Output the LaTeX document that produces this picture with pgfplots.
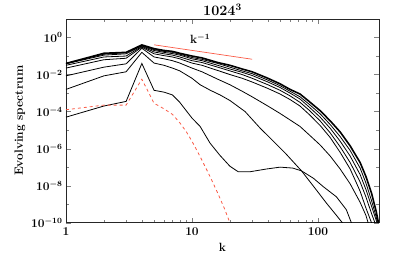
\documentclass[border=0pt]{standalone}
\usepackage{pgfplots}
\pgfplotsset{compat=1.18}
\definecolor{redline}{RGB}{250,90,70}
\newcommand{\tf}{\fontsize{12}{13}\selectfont\bfseries\boldmath}
\newcommand{\ttl}{\fontsize{14}{16}\selectfont\bfseries\boldmath}
\begin{document}
\begin{tikzpicture}
\path[use as bounding box] (-66bp,-39.3bp) rectangle (333bp,222.7bp);
\begin{axis}[
  at={(0bp,0bp)}, anchor=south west,
  scale only axis, width=313bp, height=203.7bp,
  xmode=log, ymode=log,
  xmin=1, xmax=305, ymin=1e-10, ymax=1e1,
  xtick={1,10,100}, xticklabels={1,10,100},
  ytick={1e0,1e-2,1e-4,1e-6,1e-8,1e-10},
  yticklabels={$10^{0}$,$10^{-2}$,$10^{-4}$,$10^{-6}$,$10^{-8}$,$10^{-10}$},
  minor ytick={1e-1,1e-3,1e-5,1e-7,1e-9},
  tick align=inside, major tick length=5bp, minor tick length=3bp,
  tick label style={font=\tf},
  xticklabel style={yshift=-1bp},
  axis line style={line width=0.8pt, black!85},
  title={$1024^3$},
  title style={font=\ttl, yshift=-6bp},
  xlabel={k},
  ylabel={Evolving spectrum},
  label style={font=\tf},
  xlabel style={yshift=-1bp},
  ylabel style={yshift=-1bp},
  no marks,
]
\addplot[black, line width=0.8pt] coordinates {(1,5.01e-5)(2,2.00e-4)(3,3.55e-4)(4,3.98e-2)(5,1.41e-3)(6,1.12e-3)(7,7.94e-4)(8,3.16e-4)(9,1.12e-4)(10,4.47e-5)(11.6,1.58e-5)(13.9,2.00e-6)(16.6,4.47e-7)(20,1.12e-7)(23.3,5.62e-8)(28.8,5.62e-8)(39,7.94e-8)(50,1.00e-7)(63,8.91e-8)(74,6.31e-8)(92,2.51e-8)(110,8.91e-9)(140,2.51e-9)(168,5.01e-10)(184,1.00e-10)(190,5.01e-11)};
\addplot[black, line width=0.8pt] coordinates {(1,1.58e-3)(2,8.51e-3)(3,1.41e-2)(4,1.58e-1)(5,4.17e-2)(6,3.16e-2)(7,2.24e-2)(8,1.58e-2)(10,6.31e-3)(11.6,2.82e-3)(14,1.41e-3)(16.7,7.94e-4)(20,3.98e-4)(26.4,1.00e-4)(34.6,1.32e-5)(41.6,3.80e-6)(56,5.01e-7)(74,6.31e-8)(95,7.08e-9)(117,1.12e-9)(140,2.51e-10)(156,1.00e-10)(165,3.98e-11)};
\addplot[black, line width=0.8pt] coordinates {(1,8.51e-3)(2,2.51e-2)(3,3.80e-2)(4,2.63e-1)(5,8.91e-2)(6,7.08e-2)(7,5.62e-2)(8,4.17e-2)(10,2.24e-2)(12,1.41e-2)(16,5.62e-3)(20,2.82e-3)(25,1.26e-3)(30,6.31e-4)(40,2.00e-4)(50,7.94e-5)(60,3.55e-5)(72,1.58e-5)(85,5.62e-6)(104,1.58e-6)(125,3.98e-7)(150,7.94e-8)(180,1.26e-8)(216,1.26e-9)(240,2.51e-10)(250,1.00e-10)(260,3.98e-11)};
\addplot[black, line width=0.8pt] coordinates {(1,2.24e-2)(2,6.31e-2)(3,7.59e-2)(4,3.02e-1)(5,1.32e-1)(6,1.05e-1)(7,8.91e-2)(8,7.08e-2)(10,4.17e-2)(12,3.16e-2)(16,1.66e-2)(20,1.00e-2)(25,6.31e-3)(30,3.98e-3)(40,1.78e-3)(50,8.91e-4)(60,4.47e-4)(72,2.00e-4)(85,7.08e-5)(104,1.78e-5)(125,3.98e-6)(150,6.31e-7)(180,7.94e-8)(216,5.01e-9)(240,6.31e-10)(266,1.00e-10)(275,3.98e-11)};
\addplot[black, line width=0.8pt] coordinates {(1,3.16e-2)(2,8.91e-2)(3,1.00e-1)(4,3.31e-1)(5,1.66e-1)(6,1.32e-1)(7,1.12e-1)(8,8.91e-2)(10,5.62e-2)(12,4.47e-2)(16,2.51e-2)(20,1.58e-2)(25,1.00e-2)(30,6.31e-3)(40,2.82e-3)(50,1.41e-3)(60,7.08e-4)(72,3.16e-4)(85,1.20e-4)(104,3.16e-5)(125,7.08e-6)(150,1.26e-6)(180,1.78e-7)(216,1.58e-8)(240,2.51e-9)(266,3.16e-10)(283,1.00e-10)(290,3.98e-11)};
\addplot[black, line width=0.8pt] coordinates {(1,3.80e-2)(2,1.12e-1)(3,1.32e-1)(4,3.55e-1)(5,2.00e-1)(6,1.58e-1)(7,1.35e-1)(8,1.12e-1)(10,7.08e-2)(12,5.62e-2)(16,3.16e-2)(20,2.00e-2)(25,1.32e-2)(30,8.91e-3)(40,3.98e-3)(50,2.00e-3)(60,1.00e-3)(72,4.79e-4)(85,1.78e-4)(104,5.01e-5)(125,1.26e-5)(150,2.51e-6)(180,3.98e-7)(216,3.98e-8)(240,6.31e-9)(266,7.94e-10)(294,1.00e-10)(300,5.01e-11)};
\addplot[black, line width=0.8pt] coordinates {(1,3.98e-2)(2,1.26e-1)(3,1.51e-1)(4,3.80e-1)(5,2.24e-1)(6,1.78e-1)(7,1.58e-1)(8,1.26e-1)(10,8.32e-2)(12,6.61e-2)(16,3.98e-2)(20,2.51e-2)(25,1.58e-2)(30,1.12e-2)(40,5.01e-3)(50,2.51e-3)(60,1.26e-3)(72,6.31e-4)(85,2.51e-4)(104,7.59e-5)(125,2.00e-5)(150,4.47e-6)(180,7.94e-7)(216,8.91e-8)(240,1.41e-8)(266,1.58e-9)(290,2.00e-10)(300,7.94e-11)};
\addplot[black, line width=1.6pt] coordinates {(1,3.98e-2)(2,1.41e-1)(3,1.58e-1)(4,3.98e-1)(5,2.51e-1)(6,2.00e-1)(7,1.78e-1)(8,1.41e-1)(10,1.00e-1)(12,7.94e-2)(16,4.47e-2)(20,3.16e-2)(25,2.00e-2)(30,1.41e-2)(40,6.31e-3)(50,3.16e-3)(60,1.58e-3)(72,8.91e-4)(85,3.55e-4)(104,1.12e-4)(125,3.16e-5)(150,7.94e-6)(180,1.41e-6)(216,1.78e-7)(240,3.16e-8)(266,3.98e-9)(290,3.98e-10)(310,3.98e-11)};
\addplot[redline, dashed, line width=0.8pt] coordinates {(1,1.26e-4)(2,2.24e-4)(3,2.24e-4)(4,5.62e-3)(5,2.82e-4)(6,1.41e-4)(7,7.08e-5)(8,2.51e-5)(9,8.32e-6)(10,2.51e-6)(11.6,3.72e-7)(13.9,3.16e-8)(16,3.98e-9)(18,6.31e-10)(20,1.00e-10)(22,1.58e-11)};
\addplot[redline, line width=0.7pt] coordinates {(5,0.403)(30,0.0672)};
\node[font=\tf] at (axis cs:11.6,0.85) {$\mathbf{k}^{-1}$};
\end{axis}
\end{tikzpicture}
\end{document}
